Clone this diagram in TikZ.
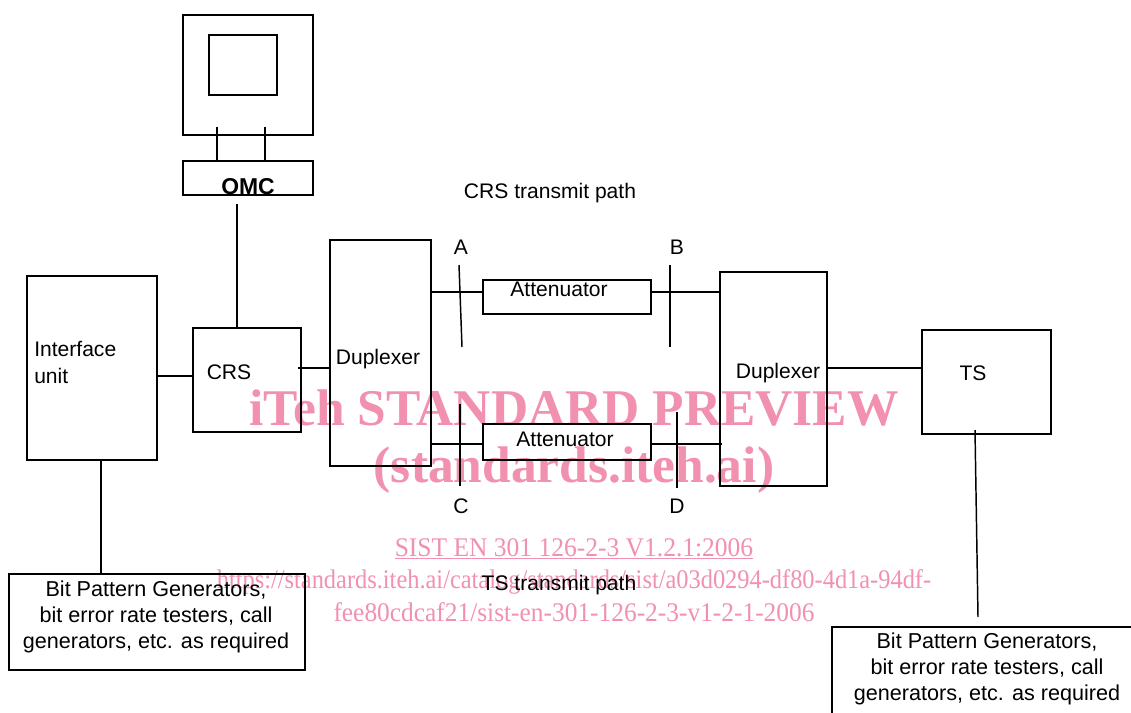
\documentclass[tikz,border=0pt]{standalone}
\usepackage{fontspec}
\setmainfont{Liberation Sans}
\newfontfamily\wmfont{Liberation Serif}
\definecolor{wm}{HTML}{F291AF}
\newcommand{\bx}[5]{\node[boxn,minimum width={(#4-#2)*0.75pt},minimum height={(#5-#3)*0.75pt}] (#1) at ({(#2+#4)/2},{(#3+#5)/2}) {};}
\tikzset{
 boxn/.style={draw=black,line width=1.1pt,inner sep=0pt,outer sep=0pt},
 lbl/.style={inner sep=0pt,font=\fontsize{15.8pt}{19pt}\selectfont,text=black},
 multi/.style={lbl,align=center,font=\fontsize{16.2pt}{19.2pt}\selectfont},
 conn/.style={line width=1.1pt,draw=black},
 wml/.style={inner sep=0pt,text=wm},
}
\begin{document}
\begin{tikzpicture}[x=0.75pt,y=-0.75pt]
\clip (0,0) rectangle (1131,713);
\fill[white] (0,0) rectangle (1131,713);
% watermark
\node[wml,font=\wmfont\bfseries\fontsize{38.6pt}{44pt}\selectfont] (w1) at (574,408) {iTeh STANDARD PREVIEW};
\node[wml,font=\wmfont\bfseries\fontsize{38.6pt}{44pt}\selectfont] (w2) at (574,470) {(standards.iteh.ai)};
\node[wml,xscale=.947,font=\wmfont\fontsize{20.2pt}{24pt}\selectfont] (w3) at (574,549) {\underline{SIST EN 301 126-2-3 V1.2.1:2006}};
\node[wml,xscale=.906,font=\wmfont\fontsize{20.2pt}{24pt}\selectfont] (w4) at (574,582) {https://standards.iteh.ai/catalog/standards/sist/a03d0294-df80-4d1a-94df-};
\node[wml,xscale=.943,font=\wmfont\fontsize{20.2pt}{24pt}\selectfont] (w5) at (574,612) {fee80cdcaf21/sist-en-301-126-2-3-v1-2-1-2006};
% boxes
\bx{mon}{183}{15}{313}{135}
\bx{scr}{209}{35}{277}{95}
\bx{omc}{183}{161}{313}{195}
\bx{iface}{27}{276}{157}{460}
\bx{crs}{193}{328}{301}{432}
\bx{dupl}{330}{240}{431}{466}
\bx{dupr}{720}{272}{827}{486}
\bx{atta}{483}{280}{651}{314}
\bx{attb}{483}{424}{651}{460}
\bx{ts}{922}{330}{1051}{434}
\bx{bpgl}{9}{574}{305}{670}
\bx{bpgr}{832}{627}{1160}{740}
% free connector ends
\coordinate (s1) at (217,127);
\coordinate (s2) at (265,127);
\coordinate (o1) at (237,204);
\coordinate (ta) at (459,265);
\coordinate (tab) at (462,347);
\coordinate (tb) at (670,265);
\coordinate (tbb) at (670,347);
\coordinate (tc) at (460,404);
\coordinate (tcb) at (460,486);
\coordinate (td) at (677,412);
\coordinate (tdb) at (677,488);
\coordinate (tsl) at (975,430);
\coordinate (tse) at (978,617);
% connectors
\draw[conn] (s1) -- (s1 |- omc.north);
\draw[conn] (s2) -- (s2 |- omc.north);
\draw[conn] (o1) -- (o1 |- crs.north);
\draw[conn] (iface.east |- 0,376) -- (crs.west |- 0,376);
\draw[conn] (298,368) -- (dupl.west |- 0,368);
\draw[conn] (dupl.east |- 0,292) -- (atta.west |- 0,292);
\draw[conn] (atta.east |- 0,292) -- (dupr.west |- 0,292);
\draw[conn] (dupl.east |- 0,444) -- (attb.west |- 0,444);
\draw[conn] (attb.east |- 0,444) -- (722,444);
\draw[conn] (dupr.east |- 0,368) -- (ts.west |- 0,368);
\draw[conn] (101,460) -- (101,574);
\draw[conn] (tsl) -- (tse);
\draw[conn] (ta) -- (tab);
\draw[conn] (tb) -- (tbb);
\draw[conn] (tc) -- (tcb);
\draw[conn] (td) -- (tdb);
% labels
\node[lbl,font=\bfseries\fontsize{17.2pt}{19pt}\selectfont] (tomc) at (248,187) {OMC};
\node[lbl] (tcrsp) at (550,193) {CRS transmit path};
\node[lbl] (ttsp) at (559,585) {TS transmit path};
\node[lbl] (la) at (461,247) {A};
\node[lbl] (lb) at (677,247) {B};
\node[lbl] (lc) at (461,506) {C};
\node[lbl] (ld) at (677,506) {D};
\node[lbl,anchor=west,align=left] (tif) at (34,362.5) {Interface\\[1pt]unit};
\node[lbl] (tcrs) at (229,372) {CRS};
\node[lbl] (tdl) at (378,359) {Duplexer};
\node[lbl] (tdr) at (778,373) {Duplexer};
\node[lbl] (tts) at (973,373) {TS};
\node[lbl] (tat1) at (559,289) {Attenuator};
\node[lbl] (tat2) at (565,439) {Attenuator};
\node[multi] (tbl) at (156,617) {Bit Pattern Generators,\\bit error rate testers, call\\generators, etc. as required};
\node[multi] (tbr) at (987,669) {Bit Pattern Generators,\\bit error rate testers, call\\generators, etc. as required};
\end{tikzpicture}
\end{document}
